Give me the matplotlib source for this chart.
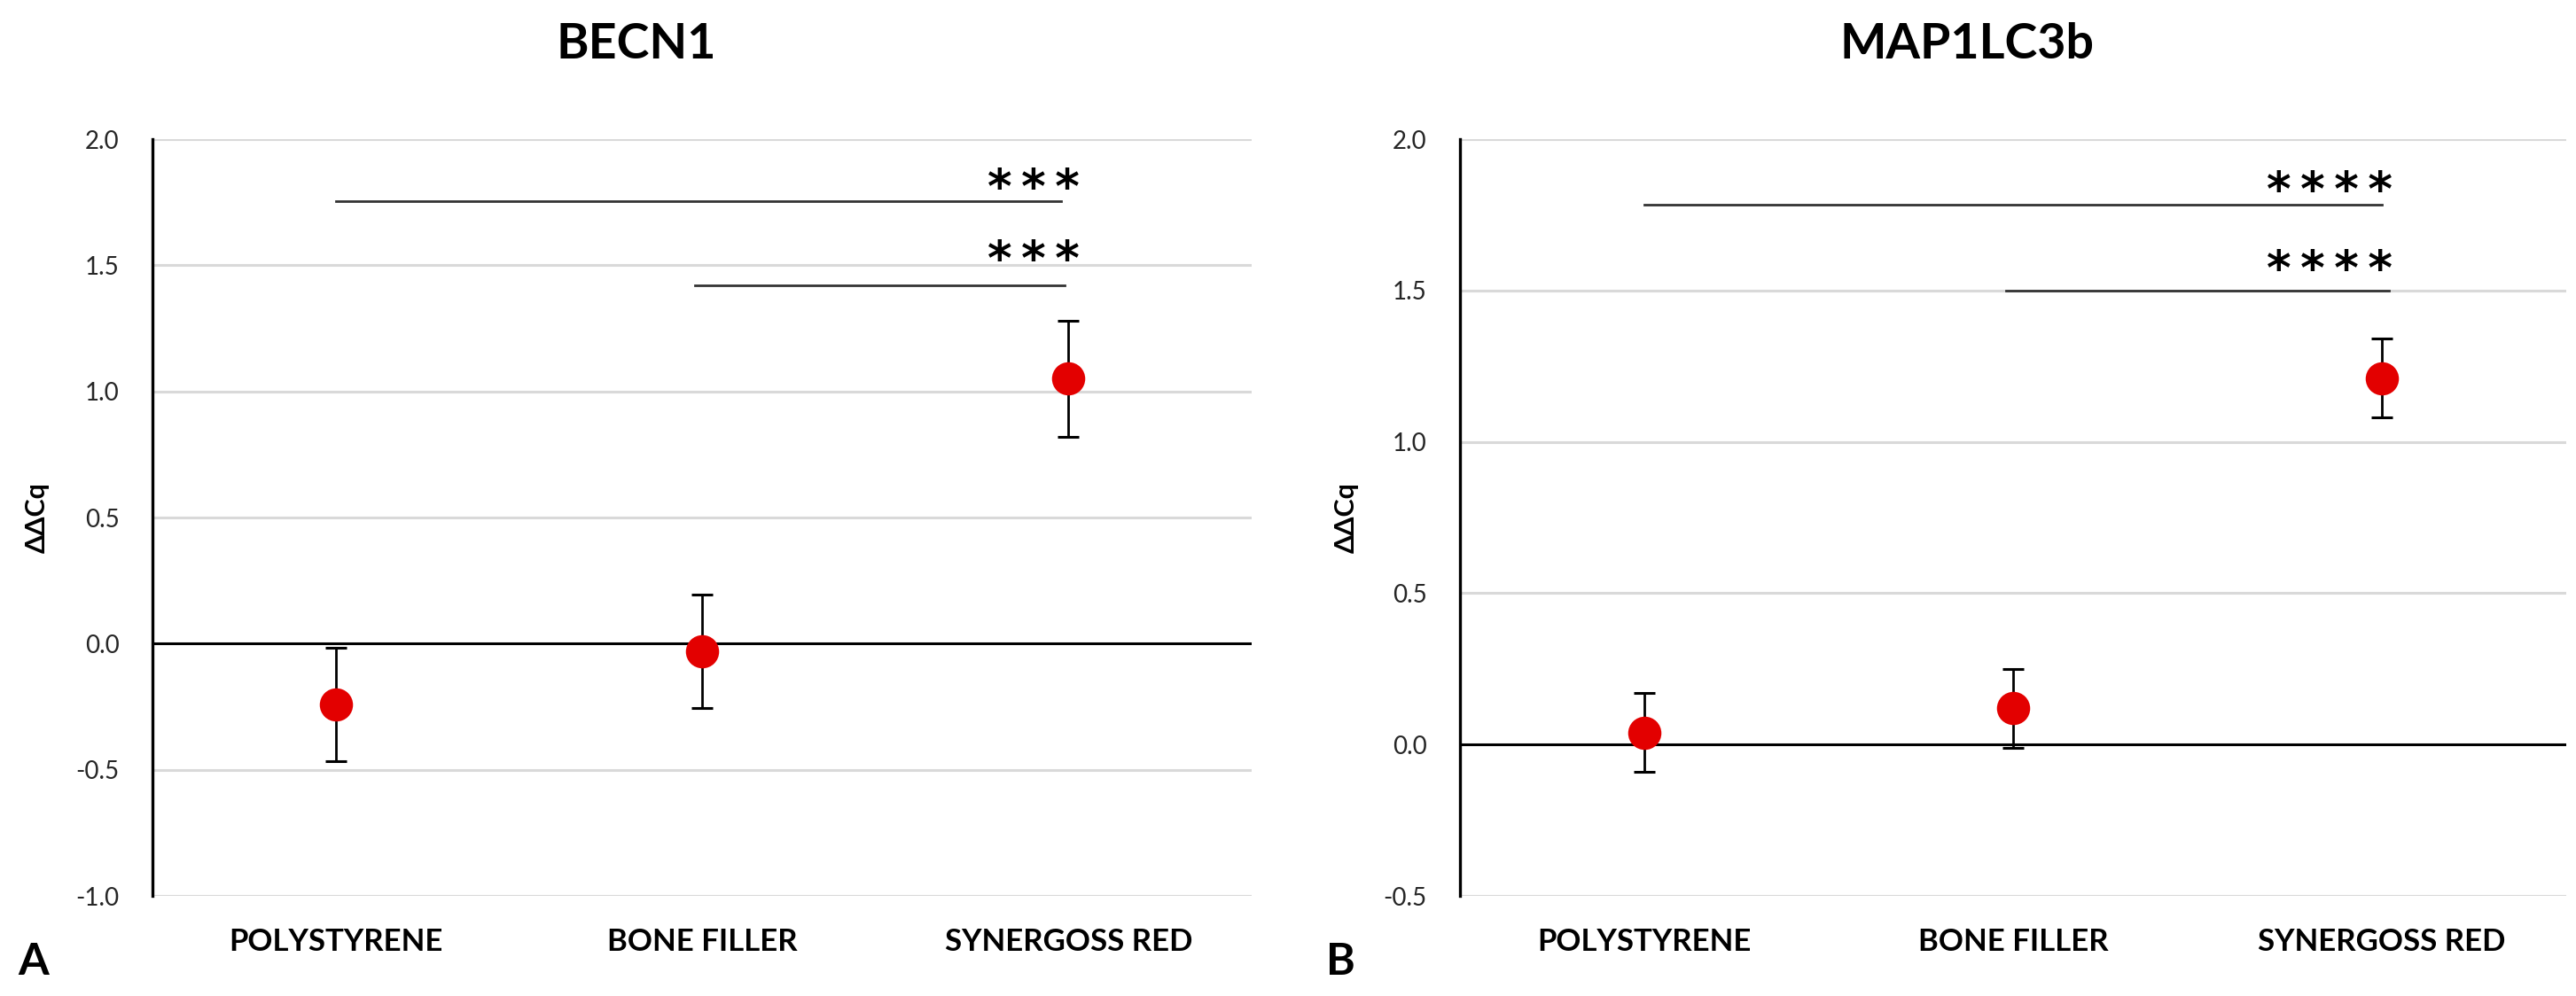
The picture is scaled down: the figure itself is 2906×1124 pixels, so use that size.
import matplotlib
matplotlib.use("Agg")
from matplotlib import pyplot as plt

categories = ["POLYSTYRENE", "BONE FILLER", "SYNERGOSS RED"]

# panel A - BECN1
becn1_mean = [-0.24, -0.03, 1.05]
becn1_err = [0.225, 0.225, 0.23]
# panel B - MAP1LC3b
map1_mean = [0.04, 0.12, 1.21]
map1_err = [0.13, 0.13, 0.13]

# significance brackets: (x start, x end, y line, y stars, number of stars)
becn1_sig = [(0.0, 1.98, 1.755, 1.80, 3), (0.98, 1.99, 1.42, 1.515, 3)]
map1_sig = [(0.0, 2.0, 1.783, 1.825, 4), (0.98, 2.02, 1.50, 1.565, 4)]

becn1_ticks = [-1.0, -0.5, 0.0, 0.5, 1.0, 1.5, 2.0]
map1_ticks = [-0.5, 0.0, 0.5, 1.0, 1.5, 2.0]

FONT = "Lato"
RED = "#E30000"

fig = plt.figure(figsize=(29.06, 11.24), dpi=100)
ax1 = fig.add_axes([0.0592, 0.1005, 0.4267, 0.7598])
ax2 = fig.add_axes([0.5668, 0.1005, 0.4294, 0.7598])


def draw_panel(ax, means, errs, ticks, sig):
    x = list(range(len(categories)))
    for t in ticks:
        if t == 0:
            ax.axhline(t, color="black", lw=2.2, zorder=2)
        else:
            ax.axhline(t, color="#d9d9d9", lw=2.2, zorder=1)
    ax.errorbar(x, means, yerr=errs, fmt="none", ecolor="black",
                elinewidth=2.0, capsize=8.3, capthick=2.2, zorder=3)
    ax.plot(x, means, "o", color=RED, markersize=27, markeredgewidth=0, zorder=4)

    for x0, x1, yl, ys, n in sig:
        ax.plot([x0, x1], [yl, yl], color="#333333", lw=2.0, zorder=3)
        label = "\u2009".join(["*"] * n)
        ax.text(2.03, ys, label, ha="right", va="center", fontsize=38,
                fontweight="bold", family="DejaVu Sans", color="black")

    ax.set_xlim(-0.5, 2.5)
    ax.set_ylim(ticks[0], ticks[-1])
    ax.set_yticks(ticks)
    ax.set_yticklabels([f"{t:.1f}" for t in ticks], fontsize=20,
                       family=FONT, color="#262626")
    ax.set_xticks(x)
    ax.set_xticklabels(categories, fontsize=25, fontweight="bold", family=FONT)
    ax.tick_params(axis="both", length=0)
    ax.tick_params(axis="y", pad=27)
    ax.tick_params(axis="x", pad=26)
    for s in ["top", "right", "bottom"]:
        ax.spines[s].set_visible(False)
    ax.spines["left"].set_linewidth(2.4)
    ax.spines["left"].set_zorder(5)


draw_panel(ax1, becn1_mean, becn1_err, becn1_ticks, becn1_sig)
draw_panel(ax2, map1_mean, map1_err, map1_ticks, map1_sig)

# y labels
fig.text(42 / 2906, 1 - 584 / 1124, "ΔΔCq", rotation=90, ha="center", va="center",
         fontsize=22, fontweight="bold", family=FONT)
fig.text(1519 / 2906, 1 - 584 / 1124, "ΔΔCq", rotation=90, ha="center", va="center",
         fontsize=22, fontweight="bold", family=FONT)

# titles
fig.text(718 / 2906, 1 - 50 / 1124, "BECN1", ha="center", va="center",
         fontsize=40, fontweight="bold", family=FONT)
fig.text(2219 / 2906, 1 - 50 / 1124, "MAP1LC3b", ha="center", va="center",
         fontsize=40, fontweight="bold", family=FONT)

# panel letters
fig.text(20 / 2906, 1 - 1086 / 1124, "A", ha="left", va="center",
         fontsize=36, fontweight="bold", family=FONT)
fig.text(1496 / 2906, 1 - 1086 / 1124, "B", ha="left", va="center",
         fontsize=36, fontweight="bold", family=FONT)

fig.savefig("out.png", dpi=100, facecolor="white")
